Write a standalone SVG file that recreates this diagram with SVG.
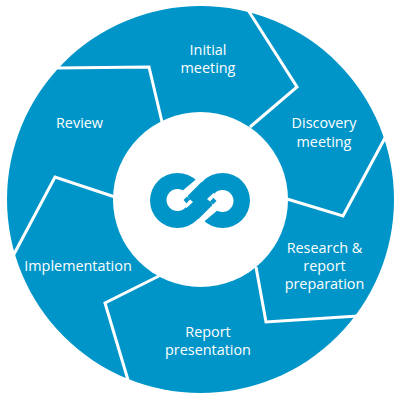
<svg xmlns="http://www.w3.org/2000/svg" width="400" height="401" viewBox="0 0 400 401">
<style>
.d{fill:none;stroke:#fff;stroke-width:3;stroke-linejoin:miter}
text{font-family:"Open Sans","Noto Sans",sans-serif;font-size:14.4px;fill:#fff;text-anchor:middle}
.l{fill:#0095c8}
.w{fill:#fff}
</style>
<defs>
<g id="cut">
<circle class="w" cx="177.500" cy="200" r="11"/>
<polygon class="w" points="200,176 207.500,176 187,196.500 190,199.500 193,202 186.500,208 181,203 175,197"/>
<polygon class="l" points="187,196.500 183.500,200 186.500,203.200 190,199.500"/>
</g>
</defs>
<rect width="400" height="401" fill="#fff"/>
<circle class="l" cx="200.500" cy="199.500" r="193.500"/>
<circle cx="200.500" cy="199.500" r="87.500" fill="#fff"/>
<g id="connectors">
<polyline class="d" points="248,10 297,87 250,127"/>
<polyline class="d" points="386,136 343,216 287,199"/>
<polyline class="d" points="358,316 266,322 256,267"/>
<polyline class="d" points="128,380 105,303 159,276"/>
<polyline class="d" points="13,256 55,177 115,197"/>
<polyline class="d" points="56,68 149,67 162,122"/>
</g>
<g id="logo">
<circle class="l" cx="177.500" cy="200.500" r="27.500"/>
<circle class="l" cx="222.500" cy="200.500" r="27.500"/>
<rect class="l" x="190" y="182" width="20" height="37"/>
<use href="#cut"/>
<use href="#cut" transform="rotate(180 200 200.500)"/>
</g>
<g id="node-initial"><text x="208" y="55">Initial</text><text x="208" y="73">meeting</text></g>
<g id="node-discovery"><text x="324" y="128">Discovery</text><text x="324" y="147">meeting</text></g>
<g id="node-research"><text x="324.500" y="253">Research &amp;</text><text x="324.500" y="271">report</text><text x="324.500" y="289">preparation</text></g>
<g id="node-report"><text x="208" y="337">Report</text><text x="208" y="355">presentation</text></g>
<g id="node-implementation"><text x="78" y="271">Implementation</text></g>
<g id="node-review"><text x="79.500" y="128">Review</text></g>
</svg>
